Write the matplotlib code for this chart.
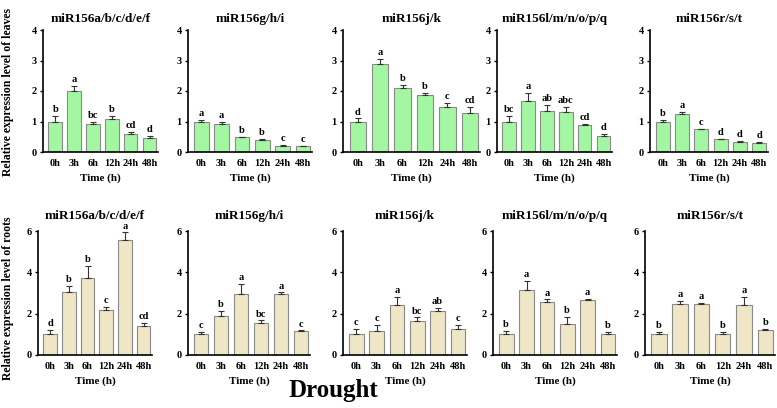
import matplotlib
matplotlib.use("Agg")
import matplotlib.pyplot as plt
import numpy as np

plt.rcParams['font.family'] = ['Liberation Serif', 'DejaVu Serif']
plt.rcParams['font.weight'] = 'bold'

times = ["0h", "3h", "6h", "12h", "24h", "48h"]
titles = ["miR156a/b/c/d/e/f", "miR156g/h/i", "miR156j/k",
          "miR156l/m/n/o/p/q", "miR156r/s/t"]

# leaves
leaf_mean = [
    [1.0, 2.0, 0.92, 1.07, 0.60, 0.47],
    [1.0, 0.93, 0.48, 0.38, 0.21, 0.19],
    [1.0, 2.90, 2.10, 1.88, 1.47, 1.28],
    [1.0, 1.68, 1.36, 1.30, 0.88, 0.52],
    [1.0, 1.23, 0.74, 0.41, 0.32, 0.30],
]
leaf_err = [
    [0.18, 0.17, 0.07, 0.12, 0.05, 0.05],
    [0.04, 0.06, 0.02, 0.04, 0.02, 0.02],
    [0.10, 0.15, 0.10, 0.06, 0.13, 0.20],
    [0.18, 0.27, 0.18, 0.17, 0.05, 0.06],
    [0.05, 0.09, 0.03, 0.03, 0.03, 0.02],
]
leaf_sig = [
    ["b", "a", "bc", "b", "cd", "d"],
    ["a", "a", "b", "b", "c", "c"],
    ["d", "a", "b", "b", "c", "cd"],
    ["bc", "a", "ab", "abc", "cd", "d"],
    ["b", "a", "c", "d", "d", "d"],
]

# roots
root_mean = [
    [1.0, 3.05, 3.75, 2.20, 5.58, 1.42],
    [1.0, 1.87, 2.95, 1.57, 2.93, 1.14],
    [1.0, 1.17, 2.40, 1.65, 2.13, 1.25],
    [1.0, 3.15, 2.57, 1.50, 2.68, 1.00],
    [1.0, 2.45, 2.47, 1.02, 2.43, 1.22],
]
root_err = [
    [0.20, 0.30, 0.55, 0.12, 0.35, 0.12],
    [0.12, 0.27, 0.48, 0.10, 0.10, 0.05],
    [0.25, 0.28, 0.40, 0.17, 0.13, 0.20],
    [0.18, 0.45, 0.12, 0.35, 0.05, 0.12],
    [0.12, 0.15, 0.07, 0.10, 0.38, 0.03],
]
root_sig = [
    ["d", "b", "b", "c", "a", "cd"],
    ["c", "b", "a", "bc", "a", "c"],
    ["c", "c", "a", "bc", "ab", "c"],
    ["b", "a", "a", "b", "a", "b"],
    ["b", "a", "a", "b", "a", "b"],
]

W, H = 777, 408
fig = plt.figure(figsize=(W / 100, H / 100), dpi=100)


def px_axes(x0, x1, ytop, ybot):
    return fig.add_axes([x0 / W, 1 - ybot / H, (x1 - x0) / W, (ybot - ytop) / H])


top_x = [(43, 158), (188, 312), (343, 480), (497, 612), (650, 768)]
bot_x = [(38, 152), (188, 310), (343, 467), (493, 617), (645, 775)]


def draw_panel(ax, means, errs, sig, title, color, ymax, step, tpad):
    x = np.arange(len(times))
    ax.bar(x, means, width=0.72, color=color, edgecolor='#8a8a8a', linewidth=0.8, zorder=2)
    ax.errorbar(x, means, yerr=[np.zeros(len(errs)), errs], fmt='none',
                ecolor='#333333', elinewidth=0.8, capsize=2.5, capthick=0.8, zorder=3)
    for xi, m, e, s in zip(x, means, errs, sig):
        ax.text(xi, m + e + ymax * 0.015, s, ha='center', va='bottom',
                fontsize=7.5, fontweight='bold')
    ax.set_xlim(-0.65, 5.45)
    ax.set_ylim(0, ymax)
    ax.set_yticks(np.arange(0, ymax + 0.01, step))
    ax.set_xticks(x)
    ax.set_xticklabels(times)
    ax.tick_params(axis='both', labelsize=7.5, width=1.0, length=2.5, pad=2)
    ax.tick_params(axis='x', length=0, pad=5)
    for sp in ['top', 'right']:
        ax.spines[sp].set_visible(False)
    for sp in ['left', 'bottom']:
        ax.spines[sp].set_linewidth(1.2)
    ax.set_title(title, fontsize=9.5, fontweight='bold', pad=tpad)
    ax.set_xlabel("Time (h)", fontsize=8, fontweight='bold', labelpad=4)


for i in range(5):
    ax = px_axes(top_x[i][0], top_x[i][1], 30, 152)
    draw_panel(ax, leaf_mean[i], leaf_err[i], leaf_sig[i], titles[i], '#a3f7a3', 4, 1, 6)

for i in range(5):
    ax = px_axes(bot_x[i][0], bot_x[i][1], 231, 355)
    draw_panel(ax, root_mean[i], root_err[i], root_sig[i], titles[i], '#efe6c6', 6, 2, 9)

fig.text(8 / W, 1 - 92 / H, "Relative expression level of leaves", rotation=90,
         ha='center', va='center', fontsize=8.5, fontweight='bold')
fig.text(8 / W, 1 - 298 / H, "Relative expression level of roots", rotation=90,
         ha='center', va='center', fontsize=8.5, fontweight='bold')
fig.text(333 / W, 1 - 390 / H, "Drought", ha='center', va='center',
         fontsize=18, fontweight='bold')

fig.savefig("out.png", dpi=100)
